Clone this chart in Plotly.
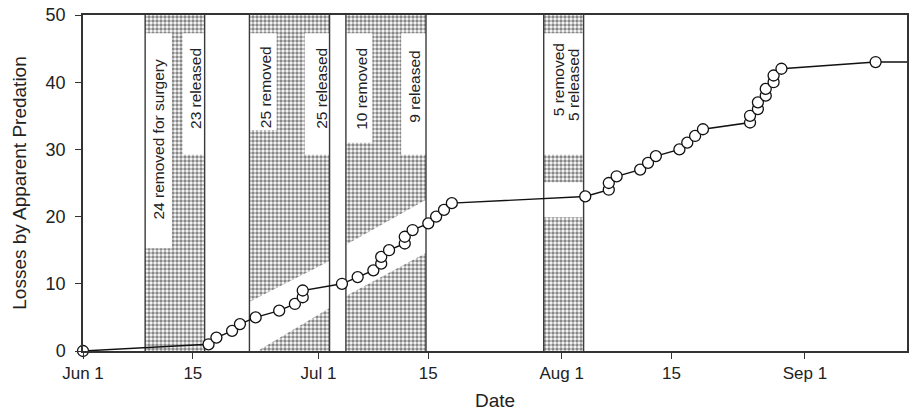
import pandas as pd
import plotly.graph_objects as go

# Cumulative losses attributed to predation, one entry per loss
loss_dates = [
    "1980-06-01", "1980-06-17", "1980-06-18", "1980-06-20", "1980-06-21",
    "1980-06-23", "1980-06-26", "1980-06-28", "1980-06-29", "1980-06-29",
    "1980-07-04", "1980-07-06", "1980-07-08", "1980-07-09", "1980-07-09",
    "1980-07-10", "1980-07-12", "1980-07-12", "1980-07-13", "1980-07-15",
    "1980-07-16", "1980-07-17", "1980-07-18", "1980-08-04", "1980-08-07",
    "1980-08-07", "1980-08-08", "1980-08-11", "1980-08-12", "1980-08-13",
    "1980-08-16", "1980-08-17", "1980-08-18", "1980-08-19", "1980-08-25",
    "1980-08-25", "1980-08-26", "1980-08-26", "1980-08-27", "1980-08-27",
    "1980-08-28", "1980-08-28", "1980-08-29", "1980-09-10",
]
losses = list(range(0, 44))
# monitoring continued after the last recorded loss
record_end = "1980-09-20"

# Periods when animals were held out of the population
period_start = ["1980-06-08 22:00", "1980-06-22 05:00", "1980-07-04 12:00", "1980-07-29 17:00"]
period_end = ["1980-06-16 12:00", "1980-07-02 10:00", "1980-07-14 17:00", "1980-08-03 19:00"]
removed_labels = ["24 removed for surgery", "25 removed", "10 removed", "5 removed"]
released_labels = ["23 released", "25 released", "9 released", "5 released"]

tick_dates = ["1980-06-01", "1980-06-15", "1980-07-01", "1980-07-15",
              "1980-08-01", "1980-08-15", "1980-09-01"]
tick_text = ["Jun 1", "15", "Jul 1", "15", "Aug 1", "15", "Sep 1"]
y_ticks = [0, 10, 20, 30, 40, 50]

x_range = ["1980-06-01", "1980-09-14"]
y_max = 50

FONT = "Liberation Sans, Arial, Helvetica, sans-serif"
INK = "#222222"

# Layout of the white label panels and clear bands inside each period,
# given as fractions of the period width and heights in axis units.
box_top = 47.3
removed_box = [(0.0, 0.45, 15.3), (0.0, 0.34, 32.9), (0.0, 0.33, 31.0), (0.0, 1.0, 29.2)]
released_box = [(0.63, 1.0, 29.2), (0.69, 1.0, 29.2), (0.69, 1.0, 29.2), None]
clear_band = [
    None,
    [(0.0, 7.3), (1.0, 13.4), (1.0, 6.4), (0.1, 0.0), (0.0, 0.0)],
    [(0.0, 15.8), (1.0, 22.5), (1.0, 14.6), (0.0, 8.2)],
    [(0.0, 25.1), (1.0, 25.1), (1.0, 19.9), (0.0, 19.9)],
]
removed_text_pos = [(0.22, 31.5), (0.21, 39.3), (0.20, 39.0), (0.36, 40.3)]
released_text_pos = [(0.85, 39.1), (0.90, 39.1), (0.86, 39.3), (0.76, 39.6)]


def at(i, frac):
    s = pd.Timestamp(period_start[i])
    e = pd.Timestamp(period_end[i])
    return s + (e - s) * frac


fig = go.Figure()

stipple = dict(shape=".", size=4, solidity=0.6, fgcolor="#111111", bgcolor="white")

for i in range(len(period_start)):
    s, e = period_start[i], period_end[i]
    # stippled block for the whole period
    fig.add_trace(go.Scatter(
        x=[s, e, e, s, s], y=[0, 0, y_max, y_max, 0],
        mode="lines", fill="toself", fillcolor="rgba(0,0,0,0)",
        fillpattern=stipple, line=dict(width=0),
        hoverinfo="skip", showlegend=False,
    ))
    # white panels behind the labels
    for box in (removed_box[i], released_box[i]):
        if box is None:
            continue
        f0, f1, bottom = box
        x0, x1 = at(i, f0), at(i, f1)
        fig.add_trace(go.Scatter(
            x=[x0, x1, x1, x0, x0], y=[bottom, bottom, box_top, box_top, bottom],
            mode="lines", fill="toself", fillcolor="white", line=dict(width=0),
            hoverinfo="skip", showlegend=False,
        ))
    # clear band around the loss curve
    if clear_band[i] is not None:
        pts = clear_band[i] + [clear_band[i][0]]
        fig.add_trace(go.Scatter(
            x=[at(i, f) for f, _ in pts], y=[v for _, v in pts],
            mode="lines", fill="toself", fillcolor="white", line=dict(width=0),
            hoverinfo="skip", showlegend=False,
        ))
    # period edges
    for edge in (s, e):
        fig.add_trace(go.Scatter(
            x=[edge, edge], y=[0, y_max], mode="lines",
            line=dict(color="#3a3a3a", width=1.4),
            hoverinfo="skip", showlegend=False,
        ))
    # labels
    for text, (f, v) in ((removed_labels[i], removed_text_pos[i]),
                         (released_labels[i], released_text_pos[i])):
        fig.add_annotation(
            x=at(i, f), y=v, xref="x", yref="y", text=text, textangle=-90,
            showarrow=False, font=dict(family=FONT, size=15.5, color=INK),
        )

# loss curve
fig.add_trace(go.Scatter(
    x=loss_dates + [record_end], y=losses + [losses[-1]],
    mode="lines", line=dict(color="#111111", width=1.4),
    hoverinfo="skip", showlegend=False,
))
fig.add_trace(go.Scatter(
    x=loss_dates, y=losses, mode="markers",
    marker=dict(symbol="circle", size=11, color="white",
                line=dict(color="#111111", width=1.3)),
    cliponaxis=False, showlegend=False,
))

fig.update_layout(
    width=910, height=414,
    margin=dict(l=83, r=1, t=15, b=63),
    paper_bgcolor="white", plot_bgcolor="white",
    font=dict(family=FONT, color=INK),
    showlegend=False,
)
fig.update_xaxes(
    type="date", range=x_range,
    tickmode="array", tickvals=tick_dates, ticktext=tick_text,
    tickfont=dict(size=17, color=INK),
    ticks="outside", ticklen=6, tickwidth=1.2, tickcolor="#333333",
    showline=True, linecolor="#333333", linewidth=1.5, mirror=True,
    showgrid=False, zeroline=False,
    title=dict(text="Date", font=dict(size=19, color=INK), standoff=12),
)
fig.update_yaxes(
    range=[0, y_max], tickmode="array", tickvals=y_ticks,
    tickfont=dict(size=18, color=INK),
    ticks="outside", ticklen=6, tickwidth=1.2, tickcolor="#333333",
    ticklabelstandoff=6,
    showline=True, linecolor="#333333", linewidth=1.5, mirror=True,
    showgrid=False, zeroline=False,
    title=dict(text="Losses by Apparent Predation", font=dict(size=19, color=INK), standoff=14),
)

fig.write_html("out.html")
